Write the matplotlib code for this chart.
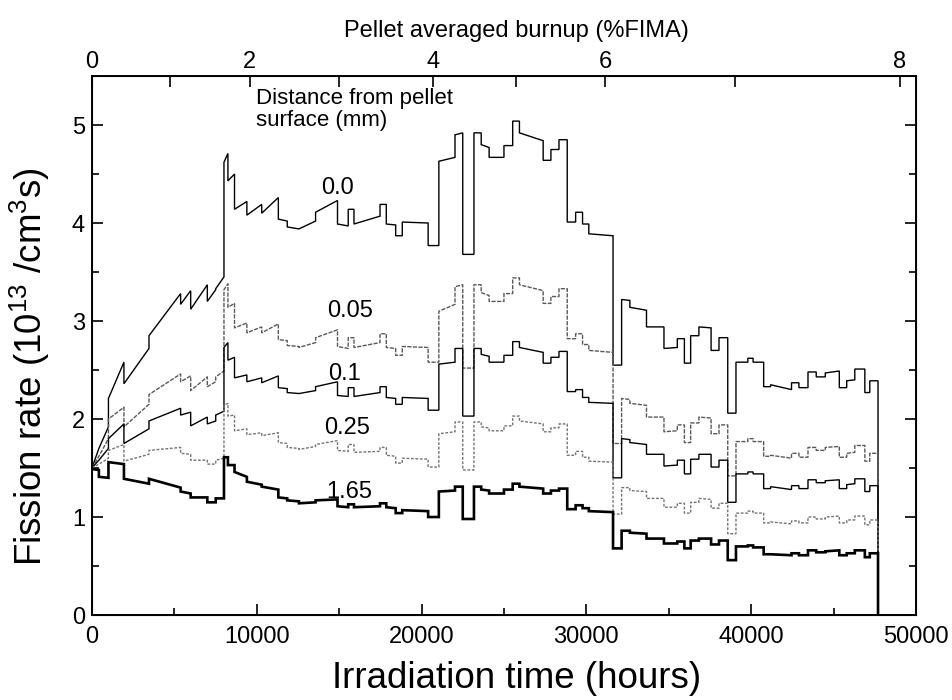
import matplotlib
matplotlib.use("Agg")
import matplotlib.pyplot as plt
from matplotlib.ticker import MultipleLocator, FixedLocator, NullFormatter

plt.rcParams['font.family'] = ['Liberation Sans', 'DejaVu Sans']
plt.rcParams['mathtext.fontset'] = 'custom'
plt.rcParams['mathtext.rm'] = 'Liberation Sans'
plt.rcParams['mathtext.it'] = 'Liberation Sans:italic'

# ---------------- data ----------------
# time edges of the irradiation steps (hours)
t_edges = [0, 420, 1000, 1940, 3460, 5380, 5990, 7000, 7510, 8010,
           8250, 8650, 9400, 10300, 11310, 11850, 12560, 13570, 14900, 15550,
           15900, 17480, 17860, 18430, 18830, 20400, 21050, 22030, 22500, 23180,
           23620, 24100, 25000, 25530, 25940, 27380, 27850, 28340, 28840, 29350,
           29770, 30150, 31620, 32140, 32640, 33650, 34710, 35520, 35950, 36330,
           36830, 37570, 38050, 38580, 39080, 39800, 40120, 40760, 41180, 42450,
           42900, 43450, 43950, 44500, 45350, 45800, 46290, 46900, 47200, 47700]

# (value at start of step, value at end of step), 10^13 /cm3 s
rate_000 = [(1.50, 1.70), (1.70, 1.92), (2.21, 2.58), (2.36, 2.72), (2.85, 3.28), (3.17, 3.31), (3.12, 3.37), (3.20, 3.32), (3.33, 3.45),
            (4.62, 4.71), (4.43, 4.50), (4.14, 4.22), (4.08, 4.19), (4.10, 4.26), (4.04, 4.02), (3.96, 3.94), (3.94, 4.02), (4.11, 4.23), (3.99, 3.97),
            (4.14, 4.14), (3.99, 4.07), (4.19, 4.19), (3.99, 3.98), (3.87, 3.87), (4.01, 4.00),
            (3.77, 3.77), (4.63, 4.67), (4.90, 4.92), (3.68, 3.68), (4.92, 4.92), (4.80, 4.77), (4.67, 4.67), (4.79, 4.79), (5.04, 5.04),
            (4.92, 4.84), (4.64, 4.64), (4.75, 4.75), (4.85, 4.85), (4.01, 4.01), (4.11, 4.11), (3.99, 3.99), (3.89, 3.87), (2.55, 2.55),
            (3.22, 3.21), (3.14, 3.11), (2.94, 2.94), (2.72, 2.73), (2.82, 2.82), (2.57, 2.57), (2.85, 2.85), (2.94, 2.93), (2.70, 2.70),
            (2.83, 2.83), (2.06, 2.06), (2.58, 2.58), (2.62, 2.62), (2.58, 2.58), (2.33, 2.33), (2.35, 2.30), (2.37, 2.37), (2.32, 2.32),
            (2.48, 2.48), (2.43, 2.43), (2.47, 2.49), (2.32, 2.32), (2.39, 2.40), (2.51, 2.51), (2.27, 2.27), (2.39, 2.39)]

rate_005 = [(1.50, 1.62), (1.62, 1.80), (2.00, 2.12), (1.92, 2.15), (2.25, 2.46), (2.38, 2.44), (2.29, 2.43), (2.33, 2.38), (2.43, 2.49),
            (3.32, 3.38), (3.14, 3.18), (2.93, 2.98), (2.88, 2.94), (2.88, 2.97), (2.81, 2.80), (2.75, 2.74), (2.73, 2.78), (2.83, 2.91), (2.74, 2.72),
            (2.83, 2.83), (2.73, 2.78), (2.87, 2.87), (2.73, 2.72), (2.65, 2.65), (2.74, 2.73),
            (2.58, 2.58), (3.10, 3.17), (3.35, 3.37), (2.52, 2.52), (3.37, 3.37), (3.29, 3.26), (3.20, 3.20), (3.28, 3.28), (3.44, 3.44),
            (3.37, 3.31), (3.18, 3.18), (3.25, 3.25), (3.33, 3.33), (2.82, 2.82), (2.87, 2.87), (2.76, 2.76), (2.70, 2.68), (1.75, 1.75),
            (2.21, 2.20), (2.16, 2.14), (2.02, 2.02), (1.87, 1.88), (1.94, 1.94), (1.76, 1.76), (1.96, 1.96), (2.02, 2.01), (1.85, 1.85),
            (1.94, 1.94), (1.42, 1.42), (1.77, 1.77), (1.80, 1.80), (1.77, 1.77), (1.62, 1.62), (1.63, 1.60), (1.65, 1.65), (1.61, 1.61),
            (1.71, 1.71), (1.68, 1.68), (1.71, 1.72), (1.61, 1.61), (1.65, 1.66), (1.73, 1.73), (1.57, 1.57), (1.65, 1.65)]

rate_010 = [(1.50, 1.58), (1.58, 1.70), (1.80, 1.95), (1.75, 1.90), (1.98, 2.11), (2.04, 2.07), (1.93, 2.02), (1.95, 1.98), (2.04, 2.08),
            (2.73, 2.78), (2.60, 2.63), (2.42, 2.45), (2.38, 2.42), (2.37, 2.44), (2.32, 2.31), (2.27, 2.26), (2.26, 2.29), (2.33, 2.38), (2.24, 2.23),
            (2.32, 2.32), (2.23, 2.27), (2.33, 2.33), (2.22, 2.21), (2.15, 2.15), (2.22, 2.21),
            (2.09, 2.09), (2.56, 2.58), (2.72, 2.72), (2.03, 2.03), (2.72, 2.72), (2.66, 2.64), (2.58, 2.58), (2.65, 2.65), (2.79, 2.79),
            (2.73, 2.68), (2.57, 2.57), (2.63, 2.63), (2.69, 2.69), (2.28, 2.28), (2.30, 2.30), (2.22, 2.22), (2.17, 2.16), (1.40, 1.40),
            (1.80, 1.79), (1.76, 1.74), (1.64, 1.64), (1.52, 1.53), (1.58, 1.58), (1.44, 1.44), (1.59, 1.59), (1.64, 1.64), (1.51, 1.51),
            (1.58, 1.58), (1.15, 1.15), (1.44, 1.44), (1.46, 1.46), (1.44, 1.44), (1.29, 1.29), (1.31, 1.28), (1.32, 1.32), (1.29, 1.29),
            (1.38, 1.38), (1.35, 1.35), (1.37, 1.38), (1.29, 1.29), (1.33, 1.34), (1.39, 1.39), (1.26, 1.26), (1.32, 1.32)]

rate_025 = [(1.50, 1.54), (1.54, 1.60), (1.68, 1.74), (1.57, 1.64), (1.68, 1.71), (1.65, 1.64), (1.58, 1.58), (1.54, 1.54), (1.58, 1.60),
            (2.14, 2.16), (2.03, 2.04), (1.88, 1.90), (1.84, 1.86), (1.83, 1.86), (1.76, 1.75), (1.71, 1.70), (1.69, 1.72), (1.74, 1.78), (1.68, 1.67),
            (1.74, 1.74), (1.66, 1.67), (1.71, 1.71), (1.63, 1.62), (1.55, 1.55), (1.60, 1.59),
            (1.51, 1.51), (1.85, 1.87), (1.97, 1.97), (1.48, 1.48), (1.97, 1.97), (1.92, 1.91), (1.88, 1.88), (1.93, 1.93), (2.03, 2.03),
            (1.98, 1.95), (1.87, 1.87), (1.91, 1.91), (1.95, 1.95), (1.63, 1.63), (1.67, 1.67), (1.61, 1.61), (1.57, 1.56), (1.03, 1.03),
            (1.30, 1.30), (1.27, 1.26), (1.19, 1.19), (1.10, 1.10), (1.14, 1.14), (1.04, 1.04), (1.15, 1.15), (1.19, 1.18), (1.09, 1.09),
            (1.14, 1.14), (0.83, 0.83), (1.04, 1.04), (1.06, 1.06), (1.04, 1.04), (0.94, 0.94), (0.95, 0.93), (0.96, 0.96), (0.94, 0.94),
            (1.00, 1.00), (0.98, 0.98), (1.00, 1.01), (0.94, 0.94), (0.97, 0.97), (1.01, 1.01), (0.92, 0.92), (0.97, 0.97)]

rate_165 = [(1.49, 1.48), (1.41, 1.40), (1.56, 1.54), (1.39, 1.34), (1.39, 1.30), (1.26, 1.24), (1.20, 1.20), (1.15, 1.15), (1.19, 1.19),
            (1.61, 1.61), (1.53, 1.53), (1.46, 1.41), (1.36, 1.33), (1.31, 1.28), (1.20, 1.19), (1.17, 1.16), (1.14, 1.15), (1.17, 1.18), (1.11, 1.10),
            (1.13, 1.13), (1.10, 1.11), (1.14, 1.14), (1.10, 1.09), (1.04, 1.04), (1.07, 1.06),
            (1.00, 1.00), (1.26, 1.27), (1.31, 1.31), (0.98, 0.98), (1.31, 1.31), (1.28, 1.27), (1.24, 1.24), (1.28, 1.28), (1.34, 1.34),
            (1.31, 1.29), (1.24, 1.24), (1.27, 1.27), (1.29, 1.29), (1.08, 1.08), (1.12, 1.12), (1.09, 1.09), (1.06, 1.05), (0.68, 0.68),
            (0.86, 0.86), (0.84, 0.83), (0.78, 0.78), (0.73, 0.73), (0.75, 0.75), (0.68, 0.68), (0.76, 0.76), (0.78, 0.78), (0.72, 0.72),
            (0.76, 0.76), (0.56, 0.56), (0.70, 0.70), (0.71, 0.71), (0.69, 0.69), (0.62, 0.62), (0.62, 0.61), (0.63, 0.63), (0.61, 0.61),
            (0.66, 0.66), (0.64, 0.64), (0.65, 0.66), (0.61, 0.61), (0.63, 0.63), (0.66, 0.66), (0.59, 0.59), (0.63, 0.63)]

series_labels = ['0.0', '0.05', '0.1', '0.25', '1.65']
label_x = [14870, 15650, 15350, 15470, 15600]
label_y = [4.36, 3.10, 2.46, 1.91, 1.26]

# top axis: pellet averaged burnup (%FIMA) vs irradiation hours
burnup_values = [0, 1, 2, 3, 4, 5, 6, 7, 8]
burnup_hours = [0, 4730, 9560, 14970, 20670, 25760, 31130, 39030, 49010]

x_ticks = [0, 10000, 20000, 30000, 40000, 50000]
y_ticks = [0, 1, 2, 3, 4, 5]


def vertices(edges, pairs):
    xs, ys = [], []
    for i, (s, e) in enumerate(pairs):
        xs += [edges[i], edges[i + 1]]
        ys += [s, e]
    xs.append(edges[len(pairs)])
    ys.append(0.0)
    return xs, ys


fig = plt.figure(figsize=(9.53, 7.0), dpi=100)
ax = fig.add_axes([0.0965, 0.1214, 0.8646, 0.770])

styles = [
    dict(color='black', lw=1.0, ls='-'),
    dict(color='0.35', lw=1.0, ls=(0, (3, 1))),
    dict(color='black', lw=1.0, ls='-'),
    dict(color='0.45', lw=1.0, ls=(0, (2, 1.2))),
    dict(color='black', lw=1.9, ls='-'),
]
for data, st in zip([rate_000, rate_005, rate_010, rate_025, rate_165], styles):
    xs, ys = vertices(t_edges, data)
    ax.plot(xs, ys, color=st['color'], lw=st['lw'], linestyle=st['ls'],
            solid_joinstyle='miter')

for lab, lx, ly in zip(series_labels, label_x, label_y):
    ax.text(lx, ly, lab, ha='center', va='center', fontsize=17)

ax.text(9950, 5.38, 'Distance from pellet\nsurface (mm)', ha='left', va='top',
        fontsize=16, linespacing=1.05)

ax.set_xlim(0, 50000)
ax.set_ylim(0, 5.5)
ax.xaxis.set_major_locator(FixedLocator(x_ticks))
ax.xaxis.set_minor_locator(MultipleLocator(5000))
ax.yaxis.set_major_locator(FixedLocator(y_ticks))
ax.yaxis.set_minor_locator(MultipleLocator(0.5))
ax.set_xticklabels([str(v) for v in x_ticks])
ax.set_yticklabels([str(v) for v in y_ticks])
ax.tick_params(axis='both', which='both', direction='in', top=False, right=True,
               labelsize=17, width=1.2)
ax.tick_params(axis='both', which='major', length=8)
ax.tick_params(axis='both', which='minor', length=5)
ax.tick_params(axis='x', pad=8)
ax.tick_params(axis='y', pad=5)
for sp in ax.spines.values():
    sp.set_linewidth(1.4)

ax.set_xlabel('Irradiation time (hours)', fontsize=26.5)
ax.xaxis.set_label_coords(0.515, -0.085)
ax.set_ylabel(r'Fission rate (10$^{13}$ /cm$^{3}$s)', fontsize=26.5)
ax.yaxis.set_label_coords(-0.048, 0.46)

ax2 = ax.twiny()
ax2.set_xlim(0, 50000)
major_h = [h for b, h in zip(burnup_values, burnup_hours) if b % 2 == 0]
major_b = [b for b in burnup_values if b % 2 == 0]
minor_h = [h for b, h in zip(burnup_values, burnup_hours) if b % 2 == 1]
ax2.xaxis.set_major_locator(FixedLocator(major_h))
ax2.set_xticklabels([str(b) for b in major_b])
ax2.xaxis.set_minor_locator(FixedLocator(minor_h))
ax2.xaxis.set_minor_formatter(NullFormatter())
ax2.tick_params(axis='x', which='both', direction='in', length=8, width=1.2,
                labelsize=17, pad=2)
ax2.set_xlabel('Pellet averaged burnup (%FIMA)', fontsize=17)
ax2.xaxis.set_label_coords(0.515, 1.072)

fig.savefig('out.png', dpi=100)
